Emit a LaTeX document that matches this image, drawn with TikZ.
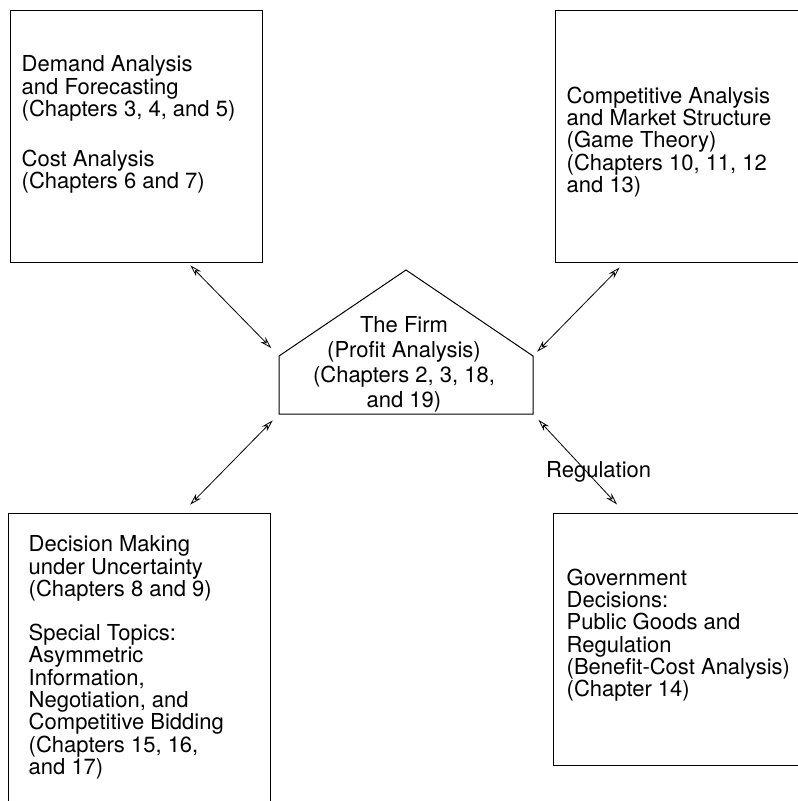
\documentclass[tikz,border=0pt]{standalone}
\usepackage{fontspec}
\setmainfont{TeX Gyre Heros}
\usetikzlibrary{arrows.meta, positioning, calc}

\begin{document}
\begin{tikzpicture}[
      x=1pt, y=1pt,
      panel/.style={rectangle, draw, line width=1pt, minimum width=252pt,
                    minimum height=252pt, inner sep=0pt},
      paneltext/.style={inner sep=0pt, align=left, font=\fontsize{22}{22.3}\selectfont},
      firmtext/.style={inner sep=0pt, align=center, font=\fontsize{22}{25}\selectfont},
      house/.style={draw, line width=1pt, line join=miter},
      arrow/.style={{Stealth[open, length=12pt, width=7pt, inset=4pt]}-{Stealth[open, length=12pt, width=7pt, inset=4pt]}, line width=0.8pt},
      tag/.style={inner sep=0pt, font=\fontsize{22}{22}\selectfont}
    ]
    \useasboundingbox (0,0) rectangle (798,-801);

    \node[panel] (demand) at (136,-136) {};
    \node[panel, minimum width=262pt] (compete) at (686,-136) {};
    \node[panel, minimum width=262pt, minimum height=300pt] (decide) at (139,-663) {};
    \node[panel, minimum width=262pt] (govt) at (684,-639) {};

    \node[paneltext, below right=46pt and 12pt of demand.north west] (demandtxt)
        {Demand Analysis\\and Forecasting\\(Chapters 3, 4, and 5)\\[28pt]Cost Analysis\\(Chapters 6 and 7)};
    \node[paneltext, below right=77pt and 12pt of compete.north west] (competetxt)
        {Competitive Analysis\\and Market Structure\\(Game Theory)\\(Chapters 10, 11, 12\\and 13)};
    \node[paneltext, below right=23pt and 21pt of decide.north west] (decidetxt)
        {Decision Making\\under Uncertainty\\(Chapters 8 and 9)\\[22pt]Special Topics:\\Asymmetric\\Information,\\Negotiation, and\\Competitive Bidding\\(Chapters 15, 16,\\and 17)};
    \node[paneltext, below right=56pt and 14pt of govt.north west] (govttxt)
        {Government\\Decisions:\\Public Goods and\\Regulation\\(Benefit-Cost Analysis)\\(Chapter 14)};

    \coordinate (hpeak) at (406,-270);
    \coordinate (hsl) at (279,-356);
    \coordinate (hsr) at (533,-356);
    \coordinate (hbl) at (279,-414);
    \coordinate (hbr) at (533,-414);
    \draw[house] (hbl) -- (hsl) -- (hpeak) -- (hsr) -- (hbr) -- cycle;
    \node[firmtext, anchor=north] (firm) at (404,-316)
        {The Firm\\(Profit Analysis)\\(Chapters 2, 3, 18,\\and 19)};

    \draw[arrow, shorten <=4pt, shorten >=11pt] ([xshift=-75pt]demand.south east) -- (hsl);
    \draw[arrow, shorten <=7pt, shorten >=6pt] ([xshift=70pt]compete.south west) -- (hsr);
    \draw[arrow, shorten <=11pt, shorten >=9pt] ([xshift=-88pt]decide.north east) -- (hbl);
    \draw[arrow, shorten <=11pt, shorten >=8pt] ([xshift=72pt]govt.north west)
        -- node[tag, pos=0.414, xshift=12pt] (reg) {Regulation} (hbr);
\end{tikzpicture}
\end{document}
